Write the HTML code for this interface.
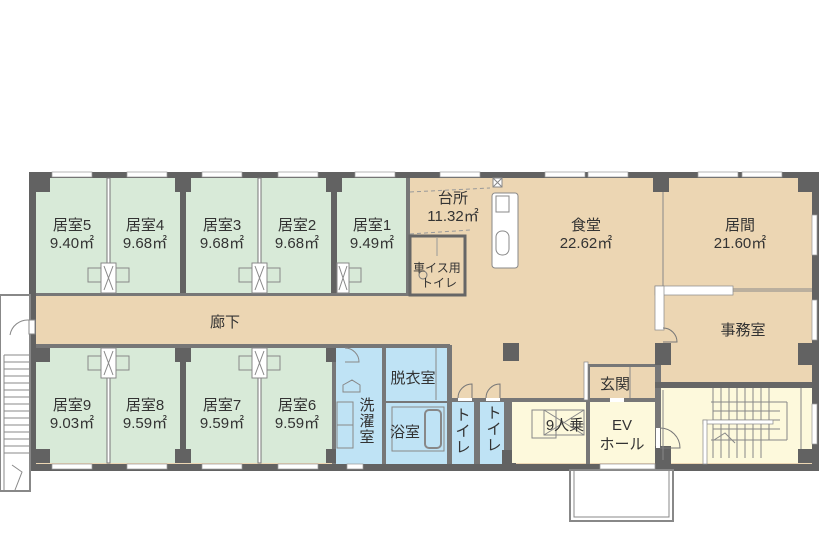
<!DOCTYPE html>
<html><head><meta charset="utf-8"><style>
html,body{margin:0;padding:0;background:#fff;}
svg{display:block;}
text{font-family:"Liberation Sans","Noto Sans CJK JP",sans-serif;fill:#333;text-anchor:middle;}
</style></head><body>
<svg width="821" height="542" viewBox="0 0 821 542" xmlns="http://www.w3.org/2000/svg">
<rect x="29" y="172" width="790" height="299" fill="#626262"/>
<rect x="36" y="178" width="776" height="286" fill="#ecd6b3"/>
<rect x="36" y="178" width="372" height="115" fill="#d8ead8"/>
<rect x="36" y="348" width="296" height="115" fill="#d8ead8"/>
<rect x="332" y="345" width="4" height="119" fill="#777"/>
<rect x="36" y="293" width="374" height="3" fill="#777"/>
<rect x="36" y="344" width="414" height="4" fill="#777"/>
<rect x="107" y="178" width="3" height="115" fill="#fff" stroke="#777" stroke-width="1"/>
<rect x="180" y="178" width="6" height="115" fill="#626262"/>
<rect x="258" y="178" width="3" height="115" fill="#fff" stroke="#777" stroke-width="1"/>
<rect x="331" y="178" width="6" height="115" fill="#626262"/>
<rect x="406" y="178" width="4" height="118" fill="#777"/>
<rect x="36" y="178" width="14" height="14" fill="#626262"/>
<rect x="175" y="178" width="16" height="14" fill="#626262"/>
<rect x="326" y="178" width="16" height="14" fill="#626262"/>
<rect x="653" y="178" width="16" height="14" fill="#626262"/>
<rect x="798" y="178" width="14" height="14" fill="#626262"/>
<rect x="107" y="348" width="3" height="115" fill="#fff" stroke="#777" stroke-width="1"/>
<rect x="180" y="348" width="6" height="115" fill="#626262"/>
<rect x="258" y="348" width="3" height="115" fill="#fff" stroke="#777" stroke-width="1"/>
<rect x="36" y="348" width="14" height="14" fill="#626262"/>
<rect x="36" y="449" width="14" height="14" fill="#626262"/>
<rect x="175" y="348" width="16" height="14" fill="#626262"/>
<rect x="175" y="449" width="16" height="14" fill="#626262"/>
<rect x="326" y="348" width="16" height="14" fill="#626262"/>
<rect x="326" y="449" width="16" height="14" fill="#626262"/>
<rect x="336" y="348" width="46" height="116" fill="#bfe3f5"/>
<rect x="382" y="345" width="4" height="119" fill="#777"/>
<rect x="386" y="348" width="61" height="116" fill="#bfe3f5"/>
<rect x="447" y="345" width="5" height="119" fill="#777"/>
<line x1="386" y1="402" x2="447" y2="402" stroke="#777" stroke-width="2"/>
<rect x="392" y="407" width="52" height="44" fill="none" stroke="#888" stroke-width="1"/>
<rect x="425" y="410" width="16" height="38" rx="4" fill="none" stroke="#888" stroke-width="2"/>
<line x1="436" y1="348" x2="436" y2="400" stroke="#888"/>
<path d="M343 385 L352 380 L360 385 L360 392 L343 392 Z" fill="none" stroke="#888"/>
<rect x="337" y="402" width="16" height="46" fill="none" stroke="#888"/>
<line x1="337" y1="425" x2="353" y2="425" stroke="#888"/>
<path d="M345 348 A14 14 0 0 1 359 362 L345 362" fill="none" stroke="#888"/>
<rect x="452" y="400" width="22" height="64" fill="#bfe3f5"/>
<rect x="474" y="400" width="6" height="64" fill="#777"/>
<rect x="480" y="400" width="24" height="64" fill="#bfe3f5"/>
<rect x="452" y="398" width="52" height="4" fill="#777"/>
<rect x="458" y="398" width="14" height="3" fill="#fff"/>
<rect x="486" y="398" width="14" height="3" fill="#fff"/>
<path d="M458 398 A14 14 0 0 1 472 384 L472 398" fill="none" stroke="#777"/>
<path d="M486 398 A14 14 0 0 1 500 384 L500 398" fill="none" stroke="#777"/>
<rect x="504" y="398" width="8" height="66" fill="#777"/>
<rect x="502" y="450" width="14" height="14" fill="#626262"/>
<rect x="512" y="402" width="74" height="61" fill="#fdf9dc"/>
<rect x="512" y="398" width="76" height="4" fill="#777"/>
<rect x="532" y="410" width="24" height="28" fill="none" stroke="#888"/>
<rect x="544" y="410" width="40" height="25" fill="none" stroke="#888"/>
<line x1="544" y1="410" x2="584" y2="435" stroke="#888"/><line x1="584" y1="410" x2="544" y2="435" stroke="#888"/>
<rect x="586" y="365" width="4" height="99" fill="#777"/>
<rect x="590" y="402" width="65" height="61" fill="#fdf9dc"/>
<rect x="590" y="398" width="68" height="4" fill="#777"/>
<rect x="588" y="364" width="70" height="3" fill="#777"/>
<rect x="655" y="364" width="6" height="100" fill="#777"/>
<rect x="610" y="398" width="14" height="4" fill="#fff"/>
<rect x="661" y="388" width="151" height="75" fill="#fdf9dc"/>
<rect x="655" y="382" width="157" height="6" fill="#666"/>
<rect x="655" y="446" width="16" height="18" fill="#626262"/>
<rect x="656" y="428" width="4" height="20" fill="#fff"/>
<path d="M660 428 A20 20 0 0 1 680 448 L660 448" fill="none" stroke="#777"/>
<g stroke="#888" stroke-width="1">
<line x1="713" y1="388" x2="713" y2="440"/><line x1="721" y1="388" x2="721" y2="440"/><line x1="729" y1="388" x2="729" y2="440"/><line x1="737" y1="388" x2="737" y2="440"/><line x1="745" y1="388" x2="745" y2="440"/><line x1="753" y1="388" x2="753" y2="440"/><line x1="761" y1="388" x2="761" y2="440"/><line x1="769" y1="388" x2="769" y2="440"/>
<line x1="711" y1="402" x2="787" y2="402"/><line x1="787" y1="402" x2="787" y2="440"/><line x1="711" y1="440" x2="787" y2="440"/>
<line x1="713" y1="411" x2="780" y2="411"/><line x1="713" y1="420" x2="780" y2="420"/><line x1="713" y1="429" x2="780" y2="429"/>
<line x1="713" y1="440" x2="713" y2="458"/><line x1="721" y1="440" x2="721" y2="458"/><line x1="729" y1="440" x2="729" y2="458"/><line x1="737" y1="440" x2="737" y2="458"/><line x1="745" y1="440" x2="745" y2="458"/><line x1="753" y1="440" x2="753" y2="458"/><line x1="761" y1="440" x2="761" y2="458"/>
<polyline points="714,440 725,433 735,443" fill="none"/>
<line x1="663" y1="390" x2="663" y2="460"/><line x1="801" y1="388" x2="801" y2="460"/>
</g>
<rect x="703" y="420" width="70" height="4" fill="#fff" stroke="#888" stroke-width="0.7"/>
<rect x="703" y="420" width="4" height="44" fill="#fff" stroke="#888" stroke-width="0.7"/>
<rect x="798" y="449" width="14" height="14" fill="#626262"/>
<line x1="630" y1="367" x2="630" y2="398" stroke="#888"/>
<rect x="584" y="362" width="4" height="38" fill="#fff" stroke="#888" stroke-width="0.7"/>
<rect x="503" y="343" width="16" height="18" fill="#626262"/>
<rect x="655" y="343" width="16" height="22" fill="#626262"/>
<rect x="798" y="343" width="14" height="22" fill="#626262"/>
<line x1="663" y1="192" x2="663" y2="290" stroke="#888" stroke-width="1"/>
<rect x="655" y="286" width="78" height="9" fill="#fff" stroke="#888" stroke-width="0.7"/>
<rect x="655" y="286" width="9" height="44" fill="#fff" stroke="#888" stroke-width="0.7"/>
<line x1="733" y1="289" x2="812" y2="289" stroke="#888"/><line x1="733" y1="291" x2="812" y2="291" stroke="#888"/>
<path d="M663 328 A14 14 0 0 1 677 342 L663 342" fill="none" stroke="#777"/>
<path d="M410 192 L490 188 M410 234 L470 230" stroke="#999" stroke-dasharray="4,3" fill="none"/>
<rect x="492" y="193" width="26" height="75" rx="3" fill="#fff" stroke="#888"/>
<rect x="496" y="196" width="13" height="16" fill="#fff" stroke="#888"/>
<rect x="496" y="231" width="13" height="24" rx="6" fill="#fff" stroke="#888"/>
<rect x="493" y="178" width="9" height="9" fill="#fff" stroke="#888"/>
<line x1="493" y1="178" x2="502" y2="187" stroke="#888"/><line x1="502" y1="178" x2="493" y2="187" stroke="#888"/>
<rect x="410" y="236" width="55" height="59" fill="none" stroke="#666" stroke-width="3"/>
<line x1="437" y1="238" x2="437" y2="256" stroke="#999"/>
<circle cx="423" cy="275" r="4" fill="none" stroke="#777"/>
<rect x="0" y="295" width="30" height="196" fill="none" stroke="#888" stroke-width="2"/>
<rect x="29" y="320" width="6" height="14" fill="#fff" stroke="#888"/>
<path d="M29 320 A18 18 0 0 0 10 335" fill="none" stroke="#888"/>
<g stroke="#888">
<line x1="4" y1="355" x2="29" y2="355"/><line x1="4" y1="362" x2="29" y2="362"/><line x1="4" y1="369" x2="29" y2="369"/><line x1="4" y1="376" x2="29" y2="376"/><line x1="4" y1="383" x2="29" y2="383"/><line x1="4" y1="390" x2="29" y2="390"/><line x1="4" y1="397" x2="29" y2="397"/><line x1="4" y1="404" x2="29" y2="404"/><line x1="4" y1="411" x2="29" y2="411"/><line x1="4" y1="418" x2="29" y2="418"/><line x1="4" y1="425" x2="29" y2="425"/><line x1="4" y1="432" x2="29" y2="432"/><line x1="4" y1="439" x2="29" y2="439"/><line x1="4" y1="446" x2="29" y2="446"/><line x1="4" y1="453" x2="29" y2="453"/>
<line x1="4" y1="355" x2="4" y2="491"/>
<polyline points="12,465 22,472 15,490" fill="none"/>
</g>
<rect x="570" y="470" width="103" height="51" fill="none" stroke="#888" stroke-width="2"/>
<rect x="574" y="470" width="95" height="47" fill="none" stroke="#888" stroke-width="1"/>
<g fill="#fff" stroke="#999" stroke-width="0.7">
<rect x="52" y="172" width="40" height="5"/><rect x="127" y="172" width="40" height="5"/><rect x="202" y="172" width="40" height="5"/><rect x="278" y="172" width="40" height="5"/><rect x="355" y="172" width="40" height="5"/><rect x="440" y="172" width="40" height="5"/><rect x="545" y="172" width="40" height="5"/><rect x="588" y="172" width="40" height="5"/><rect x="698" y="172" width="40" height="5"/><rect x="742" y="172" width="40" height="5"/>
<rect x="52" y="464" width="40" height="5"/><rect x="127" y="464" width="40" height="5"/><rect x="202" y="464" width="40" height="5"/><rect x="278" y="464" width="40" height="5"/><rect x="347" y="464" width="16" height="5"/><rect x="600" y="464" width="55" height="5"/>
<rect x="812" y="215" width="5" height="40"/><rect x="812" y="300" width="5" height="40"/><rect x="812" y="404" width="5" height="40"/>
</g>
<g fill="none" stroke="#888">
<rect x="101" y="263" width="15" height="30" fill="#fff"/><path d="M104 266 L113 290 M113 266 L104 290"/><rect x="88" y="268" width="13" height="14"/><rect x="116" y="268" width="13" height="14"/>
<rect x="252" y="263" width="15" height="30" fill="#fff"/><path d="M255 266 L264 290 M264 266 L255 290"/><rect x="239" y="268" width="13" height="14"/><rect x="267" y="268" width="13" height="14"/>
<rect x="337" y="263" width="12" height="30" fill="#fff"/><path d="M339 266 L347 290 M347 266 L339 290"/><rect x="349" y="268" width="12" height="14"/>
<rect x="101" y="348" width="15" height="30" fill="#fff"/><path d="M104 351 L113 375 M113 351 L104 375"/><rect x="88" y="356" width="13" height="14"/><rect x="116" y="356" width="13" height="14"/>
<rect x="252" y="348" width="15" height="30" fill="#fff"/><path d="M255 351 L264 375 M264 351 L255 375"/><rect x="239" y="356" width="13" height="14"/><rect x="267" y="356" width="13" height="14"/>
</g>
<g font-size="15">
<text x="72" y="230">居室5</text><text x="72" y="248">9.40㎡</text>
<text x="145" y="230">居室4</text><text x="145" y="248">9.68㎡</text>
<text x="222" y="230">居室3</text><text x="222" y="248">9.68㎡</text>
<text x="297" y="230">居室2</text><text x="297" y="248">9.68㎡</text>
<text x="372" y="230">居室1</text><text x="372" y="248">9.49㎡</text>
<text x="72" y="410">居室9</text><text x="72" y="428">9.03㎡</text>
<text x="145" y="410">居室8</text><text x="145" y="428">9.59㎡</text>
<text x="222" y="410">居室7</text><text x="222" y="428">9.59㎡</text>
<text x="297" y="410">居室6</text><text x="297" y="428">9.59㎡</text>
<text x="453" y="203">台所</text><text x="453" y="221">11.32㎡</text>
<text x="586" y="230">食堂</text><text x="586" y="248">22.62㎡</text>
<text x="740" y="230">居間</text><text x="740" y="248">21.60㎡</text>
<text x="743" y="335">事務室</text>
<text x="225" y="327">廊下</text>
<text x="413" y="383">脱衣室</text>
<text x="405" y="437">浴室</text>
<text x="615" y="389">玄関</text>
<text x="565" y="430">9人乗</text>
<text x="622" y="430">EV</text><text x="622" y="449">ホール</text>
<text x="367" y="410">洗</text><text x="367" y="426">濯</text><text x="367" y="442">室</text>
<text x="463" y="420">ト</text><text x="463" y="436">イ</text><text x="463" y="452">レ</text>
<text x="494" y="418">ト</text><text x="494" y="434">イ</text><text x="494" y="450">レ</text>
</g>
<g font-size="12"><text x="437" y="272">車イス用</text><text x="439" y="287">トイレ</text></g>
</svg>
</body></html>
